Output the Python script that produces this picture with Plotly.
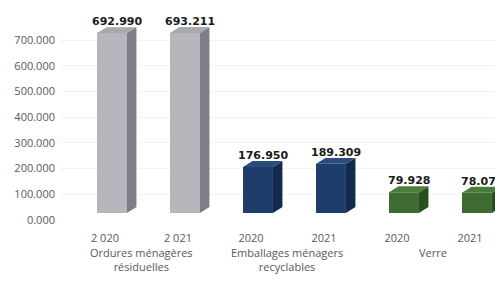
import plotly.graph_objects as go

# ---- data ----
groups = ["Ordures ménagères<br>résiduelles", "Emballages ménagers<br>recyclables", "Verre"]
years = ["2 020", "2 021", "2020", "2021", "2020", "2021"]
values = [692.990, 693.211, 176.950, 189.309, 79.928, 78.077]
value_labels = ["692.990", "693.211", "176.950", "189.309", "79.928", "78.077"]
y_ticks = [0, 100, 200, 300, 400, 500, 600, 700]

# ---- style ----
front_colors = ["#b5b7bd", "#b5b7bd", "#1e3d6b", "#1e3d6b", "#3d6b32", "#3d6b32"]
side_colors = ["#7d7e86", "#7d7e86", "#122a4d", "#122a4d", "#2a4d22", "#2a4d22"]
top_colors = ["#a8a9ae", "#a8a9ae", "#2a4d7e", "#2a4d7e", "#4c7c3c", "#4c7c3c"]

OFF = 0.096     # front face shift from category centre (x units)
W = 0.41        # front face width
DX = 0.13       # depth shift in x units
DY = 23.0       # depth shift in value units

pos = list(range(len(values)))
xc = [p + OFF for p in pos]

fig = go.Figure()

# front faces
fig.add_trace(go.Bar(x=xc, y=values, width=[W] * len(values),
                     marker=dict(color=front_colors, line=dict(width=0)),
                     hoverinfo="skip", showlegend=False))

# side and top faces built from the data
for i, v in enumerate(values):
    x0 = xc[i] - W / 2
    x1 = xc[i] + W / 2
    fig.add_trace(go.Scatter(
        x=[x1, x1 + DX, x1 + DX, x1, x1], y=[0, DY, v + DY, v, 0],
        fill="toself", fillcolor=side_colors[i], mode="lines",
        line=dict(width=0, color=side_colors[i]), hoverinfo="skip", showlegend=False))
    fig.add_trace(go.Scatter(
        x=[x0, x0 + DX, x1 + DX, x1, x0], y=[v, v + DY, v + DY, v, v],
        fill="toself", fillcolor=top_colors[i], mode="lines",
        line=dict(width=0, color=top_colors[i]), hoverinfo="skip", showlegend=False))
    fig.add_annotation(x=xc[i] + DX / 2, y=v + DY, text=value_labels[i],
                       showarrow=False, yanchor="bottom", yshift=-3,
                       font=dict(family="DejaVu Sans", size=11, color="#1a1a1a", weight="bold"))

# invisible trace for the label axis
fig.add_trace(go.Scatter(x=[pos[0]], y=[0], yaxis="y2", mode="markers",
                         marker=dict(opacity=0), hoverinfo="skip", showlegend=False))

# group labels
for g, name in enumerate(groups):
    fig.add_annotation(x=(pos[2 * g] + pos[2 * g + 1]) / 2, xref="x", y=-0.108, yref="paper",
                       text=name, showarrow=False, yanchor="top",
                       font=dict(family="Open Sans", size=11, color="#595959"))

fig.update_layout(
    width=495, height=282,
    margin=dict(l=60, r=0, t=10, b=62, autoexpand=False),
    paper_bgcolor="white", plot_bgcolor="white",
    xaxis=dict(range=[-0.616, 5.343], tickvals=pos, ticktext=years, showgrid=False,
               zeroline=False, showline=False, ticks="", ticklabelstandoff=10,
               automargin=False,
               tickfont=dict(family="Open Sans", size=11, color="#595959")),
    yaxis=dict(range=[-27, 782], showticklabels=False, showgrid=False, zeroline=False,
               showline=False, ticks="", automargin=False),
    yaxis2=dict(range=[0, 816.7], overlaying="y", side="left", tickvals=y_ticks,
                tickformat=".3f", showgrid=True, gridcolor="#f3f3f3", zeroline=False,
                showline=False, ticks="", automargin=False, ticklabelstandoff=4,
                tickfont=dict(family="Open Sans", size=11, color="#595959")),
    showlegend=False,
)

fig.write_html("out.html", config={"displayModeBar": False},
               post_script="document.body.style.margin='0';document.body.style.overflow='hidden';")
